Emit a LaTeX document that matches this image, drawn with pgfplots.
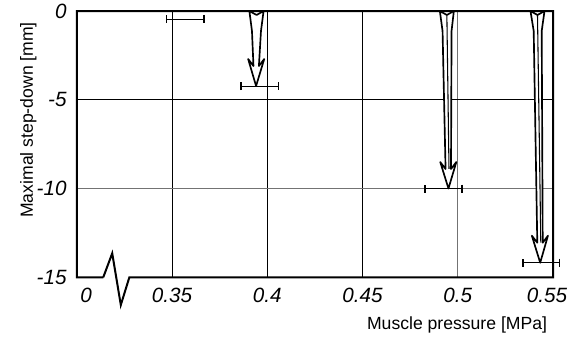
\documentclass[border=0pt]{standalone}
\usepackage{fontspec}
\setmainfont{Liberation Sans}
\usepackage{pgfplots}
\pgfplotsset{compat=1.18}
\begin{document}
\begin{tikzpicture}
\begin{axis}[
  at={(0,0)}, anchor=south west,
  scale only axis, width=357.15pt, height=199.7pt,
  xmin=0.3, xmax=0.55, ymin=-15, ymax=0,
  axis line style={draw=none},
  clip=false,
  major tick length=0pt,
  xtick={0.35,0.4,0.45,0.5,0.55},
  xticklabels={0.35,0.4,0.45,0.5,\hbox{0.55\kern9pt}},
  extra x ticks={0.30483}, extra x tick labels={0},
  ytick={-15,-10,-5,0}, yticklabels={-15,-10,-5,0},
  tick label style={font=\fontsize{15.5}{18}\selectfont\itshape},
  x tick label style={anchor=north, inner sep=0pt, yshift=-8pt},
  y tick label style={anchor=east, inner sep=0pt, xshift=-7.5pt},
  label style={font=\fontsize{13.2}{15}\selectfont},
  xlabel={Muscle pressure [MPa]},
  ylabel={Maximal step-down [mm]},
  xlabel style={at={(axis description cs:0.988,0)}, anchor=north east, inner sep=0pt, yshift=-29.3pt},
  ylabel style={at={(axis description cs:-0.092,0.591)}, anchor=base, inner sep=0pt},
  ebar/.style={black, line width=1.1pt, mark=none, error bars/.cd, x dir=both, x explicit,
    error mark=-, error mark options={black, line width=1.1pt, mark size=3pt, rotate=90}},
]
% grid lines
\addplot[black, line width=0.75pt] coordinates {(0.35,-15) (0.35,0)};
\addplot[black, line width=0.75pt] coordinates {(0.40,-15) (0.40,0)};
\addplot[black, line width=0.75pt] coordinates {(0.45,-15) (0.45,0)};
\addplot[black!55, line width=0.75pt] coordinates {(0.50,-15) (0.50,0)};
\addplot[black, line width=0.75pt] coordinates {(0.3,-5) (0.55,-5)};
\addplot[black!55, line width=0.75pt] coordinates {(0.3,-10) (0.55,-10)};
% frame with axis break
\addplot[black, line width=1.5pt, line join=miter] coordinates {
  (0.3139,-15) (0.3,-15) (0.3,0) (0.55,0) (0.55,-15) (0.3276,-15)
  (0.3231,-16.56) (0.3186,-13.65) (0.3139,-15)};
% arrows (step-down from 0)
\addplot[fill=white, draw=black, line width=1.25pt, line join=round] coordinates {
  (0.39060,0) (0.39438,-0.2254) (0.39806,0) (0.39669,-1.1268) (0.39560,-3.0986)
  (0.39840,-2.7042) (0.39412,-4.2254) (0.38995,-2.7042) (0.39275,-3.0986) (0.39196,-1.1268)} -- cycle;
\addplot[fill=white, draw=black, line width=1.25pt, line join=round] coordinates {
  (0.49060,0) (0.49428,-0.2254) (0.49795,0) (0.49674,-1.1268) (0.49645,-8.9014)
  (0.49925,-8.5070) (0.49512,-10.0) (0.49080,-8.5070) (0.49360,-8.9014) (0.49202,-1.1268)} -- cycle;
\addplot[fill=white, draw=black, line width=1.25pt, line join=round] coordinates {
  (0.53818,0) (0.54186,-0.2254) (0.54554,0) (0.54407,-1.1268) (0.54460,-13.0535)
  (0.54735,-12.6592) (0.54328,-14.18) (0.53890,-12.6592) (0.54175,-13.0535) (0.53987,-1.1268)} -- cycle;
\addplot[black, line width=0.8pt] coordinates {(0.49428,-0.2254) (0.49540,-8.9)};
\addplot[black, line width=0.8pt] coordinates {(0.54186,-0.2254) (0.54360,-13.05)};
% measured points with horizontal error bars
\addplot[ebar] coordinates {(0.35701,-0.45) +- (0.0098,0)};
\addplot[ebar] coordinates {(0.39596,-4.23) +- (0.0098,0)};
\addplot[ebar] coordinates {(0.49244,-10.0) +- (0.0097,0)};
\addplot[ebar] coordinates {(0.54380,-14.18) +- (0.0096,0)};
\end{axis}
\pgfresetboundingbox
\path[use as bounding box] (-57.6pt,-44.8pt) rectangle (369.9pt,207.95pt);
\end{tikzpicture}
\end{document}
